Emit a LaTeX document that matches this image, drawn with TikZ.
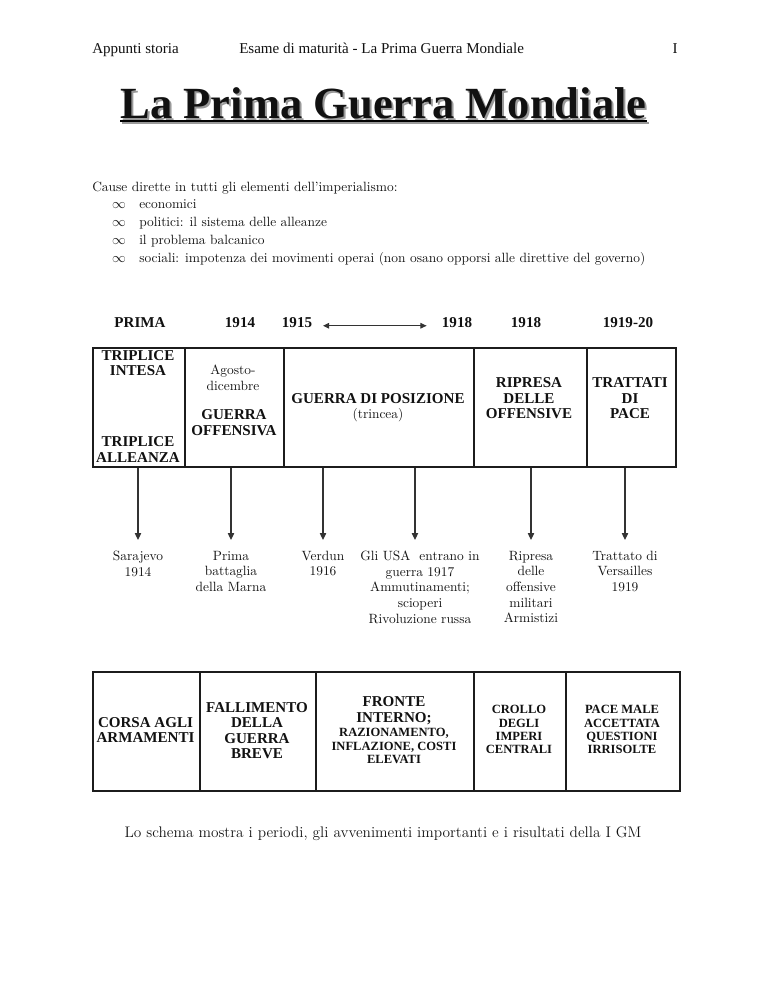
\documentclass[tikz,border=0pt]{standalone}
\usepackage{fontspec}
\setmainfont{Liberation Serif}
\newfontfamily\garafont{Latin Modern Roman}
\usepackage{tikz}
\usetikzlibrary{arrows.meta, positioning}
\definecolor{textmain}{HTML}{111111}
\definecolor{garatext}{HTML}{141414}
\definecolor{shadowgray}{HTML}{9A9A9A}
\definecolor{rulecolor}{HTML}{1C1C1C}
\def\pxl{0.797pt}
\tikzstyle{cell} = [draw=rulecolor, line width=1.2pt, inner sep=0pt, anchor=north west]
\tikzstyle{caps} = [font={\bfseries\fontsize{12}{12.4}\selectfont}, align=center]
\tikzstyle{capsmall} = [font={\bfseries\fontsize{10}{10.5}\selectfont}, align=center]
\tikzstyle{gara} = [font={\garafont\fontsize{10.7}{12.5}\selectfont}, text=garatext, align=center]
\tikzstyle{listline} = [font={\garafont\fontsize{10.7}{12.5}\selectfont}, text=garatext, anchor=base west]
\tikzstyle{event} = [gara, anchor=north, inner xsep=0pt, inner ysep=8.5pt]
\tikzstyle{arrow} = [line width=0.9pt, -{Triangle[length=5.5pt, width=5pt]}, color=rulecolor!90]
\tikzstyle{dblarrow} = [line width=0.9pt, {Triangle[length=5pt, width=4.5pt]}-{Triangle[length=5pt, width=4.5pt]}, color=rulecolor!90]

\begin{document}
\begin{tikzpicture}[x=\pxl, y=-\pxl, every node/.style={text=textmain, inner sep=0pt}]
    \useasboundingbox (0,0) rectangle (768,994);

    \node[anchor=base west, font=\fontsize{12}{14}\selectfont] (hleft) at (92,53) {Appunti storia};
    \node[anchor=base west, font=\fontsize{12}{14}\selectfont] (hmid) at (239,53) {Esame di maturità - La Prima Guerra Mondiale};
    \node[anchor=base east, font=\fontsize{12}{14}\selectfont] (hpage) at (678,53) {I};

    \node[anchor=base, text=shadowgray, font={\bfseries\fontsize{35.5}{40}\selectfont}] (tshadow) at (385.5,120) {La Prima Guerra Mondiale};
    \draw[shadowgray, line width=1.7pt] ([yshift=-2.2pt]tshadow.base west) -- ([yshift=-2.2pt]tshadow.base east);
    \node[anchor=base, font={\bfseries\fontsize{35.5}{40}\selectfont}] (title) at (383.5,118) {La Prima Guerra Mondiale};
    \draw[line width=1.7pt] ([yshift=-2.2pt]title.base west) -- ([yshift=-2.2pt]title.base east);

    \node[listline] (cause) at (92,191) {Cause dirette in tutti gli elementi dell’imperialismo:};
    \node[listline, anchor=base] (dot1) at (119,208) {$\infty$};
    \node[listline] (item1) at (139,208) {economici};
    \node[listline, anchor=base] (dot2) at (119,226) {$\infty$};
    \node[listline] (item2) at (139,226) {politici: il sistema delle alleanze};
    \node[listline, anchor=base] (dot3) at (119,244) {$\infty$};
    \node[listline] (item3) at (139,244) {il problema balcanico};
    \node[listline, anchor=base] (dot4) at (119,262) {$\infty$};
    \node[listline] (item4) at (139,262) {sociali: impotenza dei movimenti operai (non osano opporsi alle direttive del governo)};

    \node[caps, anchor=base] (y1) at (140,327) {PRIMA};
    \node[caps, anchor=base] (y2) at (240,327) {1914};
    \node[caps, anchor=base] (y3) at (297,327) {1915};
    \node[caps, anchor=base] (y4) at (457,327) {1918};
    \node[caps, anchor=base] (y5) at (526,327) {1918};
    \node[caps, anchor=base] (y6) at (628,327) {1919-20};
    \draw[dblarrow] ([xshift=8.5pt, yshift=1pt]y3.base east) -- ([xshift=-12pt, yshift=1pt]y4.base west);

    \node[cell, minimum width=92*\pxl, minimum height=119*\pxl] (c1) at (92,347) {};
    \node[cell, minimum width=99*\pxl, minimum height=119*\pxl] (c2) at (184,347) {};
    \node[cell, minimum width=190*\pxl, minimum height=119*\pxl] (c3) at (283,347) {};
    \node[cell, minimum width=113*\pxl, minimum height=119*\pxl] (c4) at (473,347) {};
    \node[cell, minimum width=89*\pxl, minimum height=119*\pxl] (c5) at (586,347) {};

    \node[caps] (intesa) at (138,363) {TRIPLICE\\INTESA};
    \node[caps] (alleanza) at (138,449.5) {TRIPLICE\\ALLEANZA};
    \node[gara] (agosto) at (233,377.5) {Agosto-\\dicembre};
    \node[caps] (offensiva) at (234,422.5) {GUERRA\\OFFENSIVA};
    \node[caps] (posizione) at (378,399) {GUERRA DI POSIZIONE};
    \node[gara] (trincea) at (378,415) {(trincea)};
    \node[caps] (ripresa) at (529,398.5) {RIPRESA\\DELLE\\OFFENSIVE};
    \node[caps] (trattati) at (630,398.5) {TRATTATI\\DI\\PACE};

    \node[event] (ev1) at (138,540) {Sarajevo\\1914};
    \node[event] (ev2) at (231,540) {Prima\\battaglia\\della Marna};
    \node[event] (ev3) at (323,540) {Verdun\\1916};
    \node[event] (ev4) at (420,540) {Gli USA\ \ entrano in\\guerra 1917\\Ammutinamenti;\\scioperi\\Rivoluzione russa};
    \node[event] (ev5) at (531,540) {Ripresa\\delle\\offensive\\militari\\Armistizi};
    \node[event] (ev6) at (625,540) {Trattato di\\Versailles\\1919};

    \draw[arrow] (ev1.north |- c1.south) -- (ev1.north);
    \draw[arrow] (ev2.north |- c2.south) -- (ev2.north);
    \draw[arrow] (ev3.north |- c3.south) -- (ev3.north);
    \draw[arrow] ([xshift=-4pt]ev4.north |- c3.south) -- ([xshift=-4pt]ev4.north);
    \draw[arrow] (ev5.north |- c4.south) -- (ev5.north);
    \draw[arrow] (ev6.north |- c5.south) -- (ev6.north);

    \node[cell, minimum width=107*\pxl, minimum height=119*\pxl] (b1) at (92,671) {};
    \node[cell, minimum width=116*\pxl, minimum height=119*\pxl] (b2) at (199,671) {};
    \node[cell, minimum width=158*\pxl, minimum height=119*\pxl] (b3) at (315,671) {};
    \node[cell, minimum width=92*\pxl, minimum height=119*\pxl] (b4) at (473,671) {};
    \node[cell, minimum width=114*\pxl, minimum height=119*\pxl] (b5) at (565,671) {};

    \node[caps] (corsa) at (145.5,730) {CORSA AGLI\\ARMAMENTI};
    \node[caps] (fallimento) at (257,730.5) {FALLIMENTO\\DELLA\\GUERRA\\BREVE};
    \node[caps] (fronte) at (394,710.5) {FRONTE\\INTERNO;};
    \node[capsmall] (razionamento) at (394,746) {RAZIONAMENTO,\\INFLAZIONE, COSTI\\ELEVATI};
    \node[capsmall] (crollo) at (519,729.5) {CROLLO\\DEGLI\\IMPERI\\CENTRALI};
    \node[capsmall] (pacemale) at (622,729.5) {PACE MALE\\ACCETTATA\\QUESTIONI\\IRRISOLTE};

    \node[anchor=base, text=garatext, font={\garafont\fontsize{12.2}{14}\selectfont}] (caption) at (383,837) {Lo schema mostra i periodi, gli avvenimenti importanti e i risultati della I GM};
\end{tikzpicture}
\end{document}
